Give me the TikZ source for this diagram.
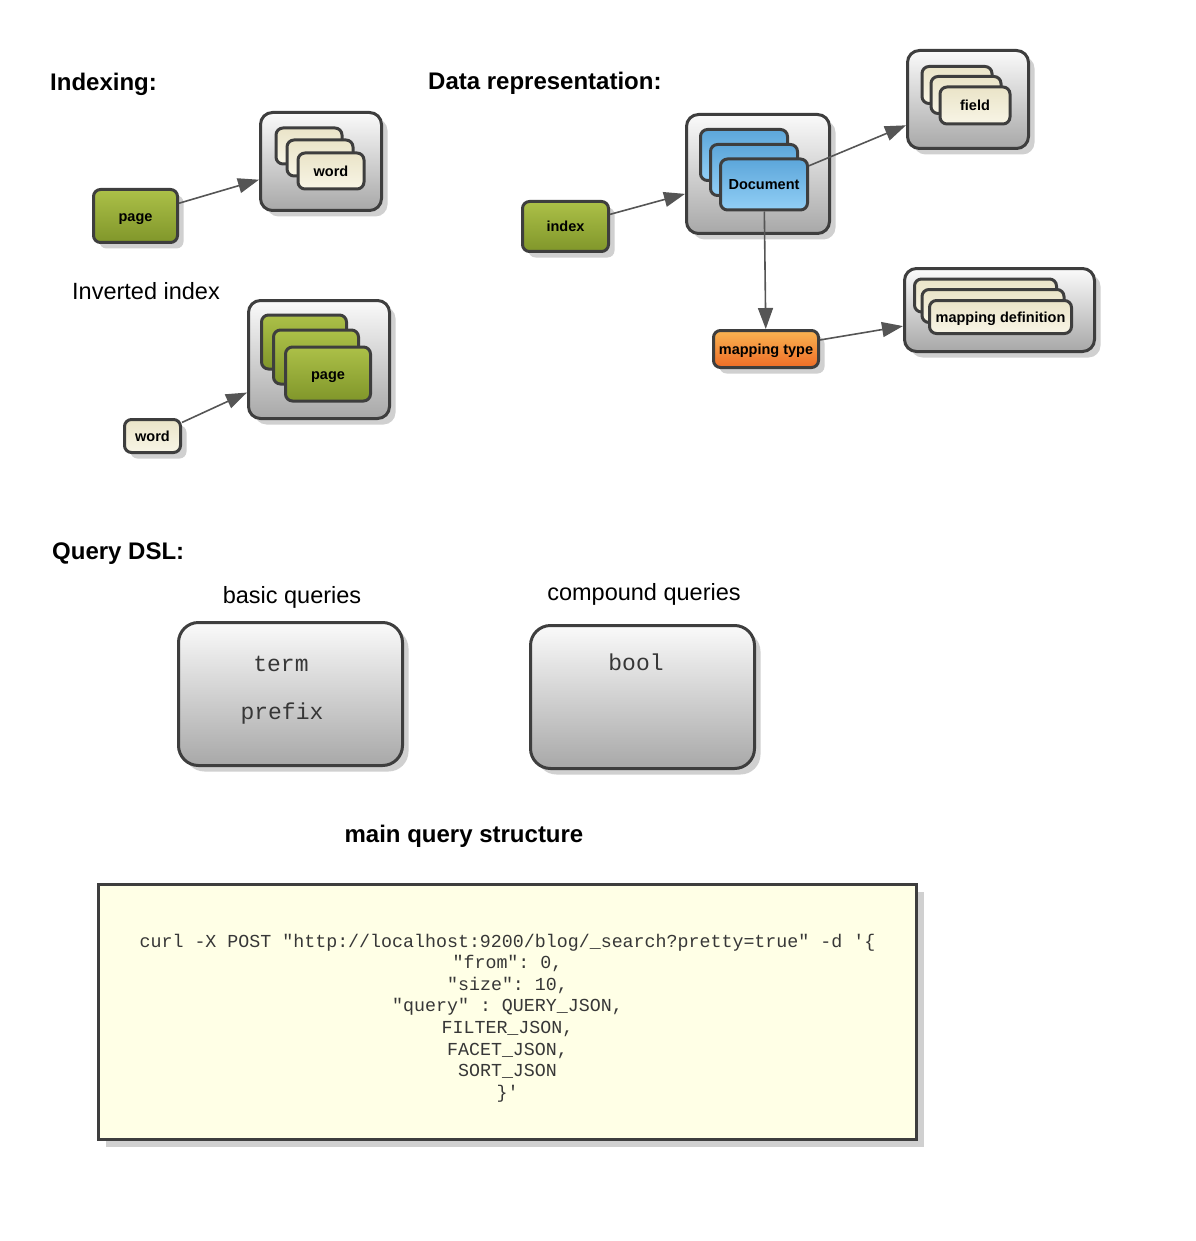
\documentclass[tikz,border=0pt]{standalone}
\usepackage{fontspec}
\setmainfont{Liberation Sans}
\setmonofont{Liberation Mono}
\usetikzlibrary{arrows.meta,shadows}

\definecolor{edgec}{RGB}{62,62,62}
\definecolor{linkc}{RGB}{85,85,85}
\definecolor{shadowc}{RGB}{208,208,208}
\definecolor{greentop}{RGB}{172,192,72}
\definecolor{greenbot}{RGB}{128,150,42}
\definecolor{creamtop}{RGB}{234,228,200}
\definecolor{creambot}{RGB}{248,245,230}
\definecolor{bluetop}{RGB}{92,166,218}
\definecolor{bluebot}{RGB}{146,207,246}
\definecolor{orangetop}{RGB}{250,180,82}
\definecolor{orangebot}{RGB}{238,108,38}
\definecolor{graytop}{RGB}{250,250,250}
\definecolor{graybot}{RGB}{168,168,168}
\definecolor{codefill}{RGB}{255,255,230}
\definecolor{textc}{RGB}{55,55,55}

\begin{document}
\begin{tikzpicture}[x=1pt,y=-1pt,
  box/.style={draw=edgec,line width=3pt,rounded corners=7pt,inner sep=0pt,
    text height=10.5pt,text depth=0pt,
    font=\fontsize{14.5}{17}\selectfont\bfseries},
  shade/.style={drop shadow={shadow xshift=6pt,shadow yshift=-6pt,fill=shadowc,opacity=1}},
  greenbox/.style={box,top color=greentop,bottom color=greenbot},
  creambox/.style={box,top color=creamtop,bottom color=creambot},
  bluebox/.style={box,top color=bluetop,bottom color=bluebot},
  orangebox/.style={box,top color=orangetop,bottom color=orangebot},
  holder/.style={box,rounded corners=12pt,top color=graytop,bottom color=graybot},
  querybox/.style={holder,rounded corners=20pt},
  title/.style={inner sep=0pt,font=\fontsize{24}{28}\selectfont\bfseries},
  caption/.style={font=\fontsize{23.5}{28}\selectfont},
  code/.style={font=\fontsize{23}{28}\selectfont\ttfamily,text=textc},
  link/.style={draw=linkc,line width=1.6pt,
    -{Triangle[length=21pt,width=15pt,fill=linkc]}}]
\useasboundingbox (0,0) rectangle (1195,1241);

% indexing
\node[title,anchor=west] (indexing) at (50,84) {Indexing:};
\node[greenbox,shade,minimum width=84pt,minimum height=53pt] (page) at (135.5,216) {page};
\node[holder,shade,minimum width=121pt,minimum height=98pt] (words) at (321,161.5) {};
\node[creambox,minimum width=66pt,minimum height=36pt] (word3) at (309,146) {};
\node[creambox,minimum width=66pt,minimum height=36pt] (word2) at (320,158) {};
\node[creambox,minimum width=66pt,minimum height=36pt] (word1) at (331,171) {word};
\draw[link] (page) -- (words);

% inverted index
\node[caption] (inverted) at (146,291) {Inverted index};
\node[creambox,shade,minimum width=56pt,minimum height=33pt] (word) at (152.5,436) {word};
\node[holder,shade,minimum width=141pt,minimum height=118pt] (pages) at (319,359.5) {};
\node[greenbox,minimum width=85pt,minimum height=54pt] (page3) at (304,342) {};
\node[greenbox,minimum width=85pt,minimum height=54pt] (page2) at (316,357) {};
\node[greenbox,minimum width=85pt,minimum height=54pt] (page1) at (328,374) {page};
\draw[link] (word) -- (pages);

% data representation
\node[title,anchor=west] (datarep) at (428,83) {Data representation:};
\node[greenbox,shade,minimum width=86pt,minimum height=50pt] (index) at (565.5,226.5) {index};
\node[holder,shade,minimum width=143pt,minimum height=119pt] (docs) at (758,174) {};
\node[bluebox,minimum width=87pt,minimum height=51pt] (doc3) at (744,155) {};
\node[bluebox,minimum width=87pt,minimum height=51pt] (doc2) at (754,170) {};
\node[bluebox,minimum width=87pt,minimum height=51pt] (doc1) at (764,184.5) {Document};
\node[holder,shade,minimum width=121pt,minimum height=98pt] (fields) at (968,99.5) {};
\node[creambox,minimum width=70pt,minimum height=37pt] (field3) at (957,85) {};
\node[creambox,minimum width=70pt,minimum height=37pt] (field2) at (966,95) {};
\node[creambox,minimum width=70pt,minimum height=37pt] (field1) at (975,105.5) {field};
\node[orangebox,shade,minimum width=105pt,minimum height=37pt] (maptype) at (766,349) {mapping type};
\node[holder,shade,minimum width=190pt,minimum height=83pt] (mapdefs) at (999.5,310) {};
\node[creambox,minimum width=142pt,minimum height=33pt] (mapdef3) at (985.5,295.5) {};
\node[creambox,minimum width=142pt,minimum height=33pt] (mapdef2) at (993,306) {};
\node[creambox,minimum width=142pt,minimum height=33pt] (mapdef1) at (1000.5,317) {mapping definition};
\draw[link] (index) -- (docs);
\draw[link] (doc1) -- (fields);
\draw[link] (doc1) -- (maptype);
\draw[link] (maptype) -- (mapdefs);

% query dsl
\node[title,anchor=west] (querydsl) at (52,553.5) {Query DSL:};
\node[caption] (basic) at (292,597) {basic queries};
\node[querybox,shade,minimum width=224pt,minimum height=143pt] (basicbox) at (290.5,694) {};
\node[code] (term) at (281,664) {term};
\node[code] (prefix) at (282,714) {prefix};
\node[caption] (compound) at (644,594) {compound queries};
\node[querybox,shade,minimum width=224pt,minimum height=143pt] (compoundbox) at (642.5,697) {};
\node[code] (bool) at (636,662) {bool};

% main query
\node[title] (mainquery) at (464,836) {main query structure};
\node[draw=edgec,line width=3pt,fill=codefill,minimum width=818pt,minimum height=255pt,
  drop shadow={shadow xshift=7pt,shadow yshift=-7pt,fill=shadowc,opacity=1}] (curlbox) at (507.5,1012) {};
\node[align=center,text=textc,font=\fontsize{18.3}{21.6}\selectfont\ttfamily] (curl) at (507.5,1018)
  {curl -X POST "http://localhost:9200/blog/\_search?pretty=true" -d '\{\\
   "from": 0,\\
   "size": 10,\\
   "query" : QUERY\_JSON,\\
   FILTER\_JSON,\\
   FACET\_JSON,\\
   SORT\_JSON\\
   \}'};
\end{tikzpicture}
\end{document}
